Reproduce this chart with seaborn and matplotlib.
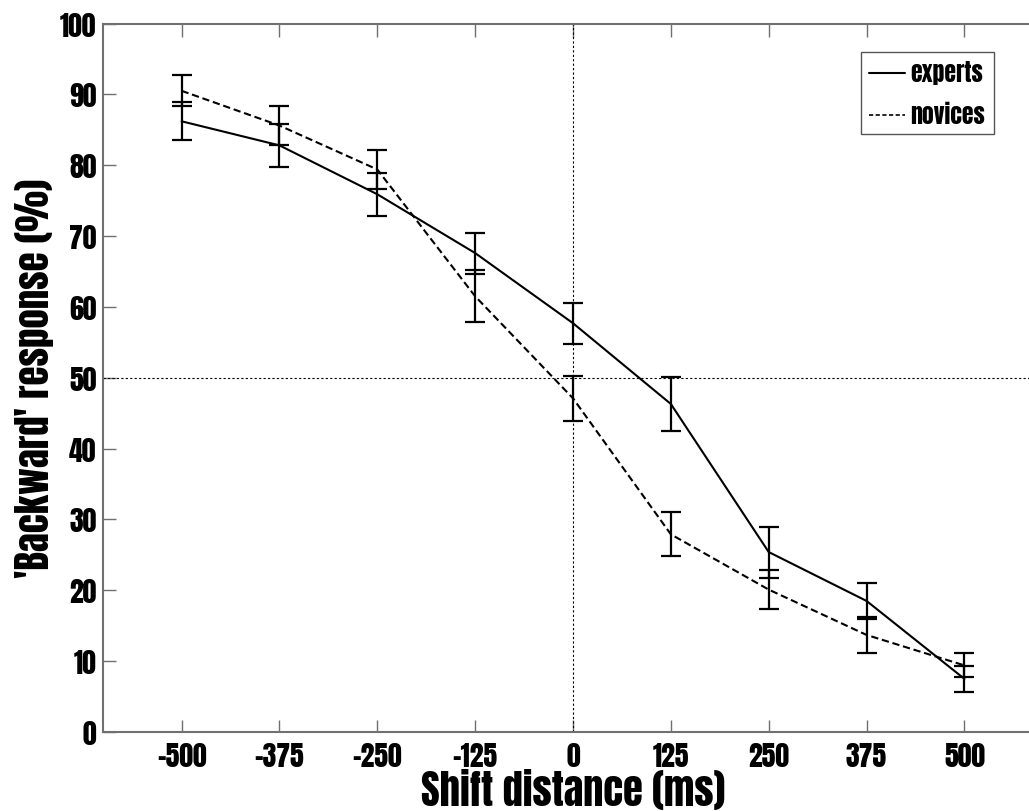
import numpy as np
import pandas as pd
import matplotlib
matplotlib.use("Agg")
import matplotlib.pyplot as plt
from matplotlib.lines import Line2D
import seaborn as sns

# ---- data ----
shift_ms = [-500, -375, -250, -125, 0, 125, 250, 375, 500]
experts = [86.2, 82.8, 75.9, 67.6, 57.7, 46.3, 25.4, 18.5, 7.5]
experts_err = [2.7, 3.0, 3.0, 2.9, 2.9, 3.8, 3.6, 2.5, 1.8]
novices = [90.5, 85.6, 79.4, 61.5, 47.1, 27.9, 20.1, 13.7, 9.4]
novices_err = [2.2, 2.8, 2.8, 3.7, 3.2, 3.1, 2.8, 2.6, 1.7]
groups = ["experts", "novices"]
x_ticks = [-500, -375, -250, -125, 0, 125, 250, 375, 500]
y_ticks = [0, 10, 20, 30, 40, 50, 60, 70, 80, 90, 100]

df = pd.DataFrame({
    "shift": shift_ms * 2,
    "resp": experts + novices,
    "err": experts_err + novices_err,
    "group": [groups[0]] * len(shift_ms) + [groups[1]] * len(shift_ms),
})

sns.set_theme(style="ticks")
FONT = ["Anton", "League Gothic", "DejaVu Sans"]
plt.rcParams["font.family"] = FONT
for k in ["text.color", "axes.labelcolor", "xtick.labelcolor", "ytick.labelcolor"]:
    plt.rcParams[k] = "black"

fig = plt.figure(figsize=(10.29, 8.12), dpi=100)
ax = fig.add_axes([0.1004, 0.0973, 0.9129, 0.8725])

# reference lines
ax.axhline(50, color="black", lw=0.8, ls=(0, (2, 2)), zorder=1)
ax.axvline(0, color="black", lw=0.8, ls=(0, (2, 2)), zorder=1)

sns.lineplot(data=df, x="shift", y="resp", style="group",
             dashes={"experts": "", "novices": (3.5, 1.8)},
             color="black", linewidth=1.5, ax=ax, legend=False,
             estimator=None, sort=False, zorder=3)

for g in groups:
    sub = df[df["group"] == g]
    ax.errorbar(sub["shift"], sub["resp"], yerr=sub["err"], fmt="none",
                ecolor="black", elinewidth=1.6, capsize=7, capthick=1.6, zorder=4)

ax.set_xlim(-600, 600)
ax.set_ylim(0, 100)
ax.set_xticks(x_ticks)
ax.set_yticks(y_ticks)
ax.set_xticklabels([str(v) for v in x_ticks])
ax.set_yticklabels([str(v) for v in y_ticks])

spine_col = "#707070"
for s in ax.spines.values():
    s.set_visible(True)
    s.set_color(spine_col)
    s.set_linewidth(1.5)
ax.tick_params(axis="both", direction="in", length=9, width=1, color=spine_col,
               top=True, right=True, labelsize=20, labelcolor="black")
ax.tick_params(axis="x", pad=7)
ax.tick_params(axis="y", pad=5)

ax.set_xlabel("Shift distance (ms)", fontsize=29, color="black")
ax.set_ylabel("'Backward' response (%)", fontsize=28, color="black")
ax.xaxis.set_label_coords(0.5, -0.1095, transform=ax.transAxes)
ax.xaxis.label.set_verticalalignment("bottom")
ax.yaxis.set_label_coords(-0.052, 0.5)

handles = [Line2D([], [], color="black", lw=1.5),
           Line2D([], [], color="black", lw=1.2, ls=(0, (2.5, 1.5)))]
leg = ax.legend(handles, groups, loc="upper left",
                bbox_to_anchor=(861 / 1029, 1 - 53 / 812), bbox_transform=fig.transFigure,
                frameon=True, fancybox=False, edgecolor="#555555", framealpha=1,
                prop={"family": FONT, "size": 17},
                handlelength=1.5, handletextpad=0.25, borderpad=0.35, labelspacing=0.75,
                borderaxespad=0)
leg.get_frame().set_linewidth(1.0)
for t in leg.get_texts():
    t.set_color("black")

fig.savefig("out.png", dpi=100)
